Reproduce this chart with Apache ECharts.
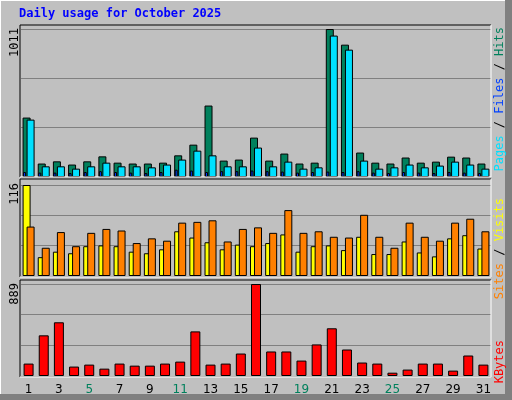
<!DOCTYPE html>
<html>
<head>
<meta charset="utf-8">
<script src="https://cdn.jsdelivr.net/npm/echarts@6/dist/echarts.min.js"></script>
<style>
  html, body { margin: 0; padding: 0; background: #c0c0c0; }
  #chart { width: 512px; height: 400px; }
</style>
</head>
<body>
<div id="chart"></div>
<script>
var days = ['1','2','3','4','5','6','7','8','9','10','11','12','13','14','15','16','17','18','19','20','21','22','23','24','25','26','27','28','29','30','31'];
var weekend = ['4','5','11','12','18','19','25','26'];
var hits   = [406,92,107,85,107,141,98,92,92,98,148,221,488,112,119,269,112,160,92,98,1011,904,167,98,92,133,98,105,139,133,92];
var files  = [392,73,73,57,73,98,73,73,66,85,119,180,148,73,73,201,73,105,57,66,966,870,112,57,66,85,66,78,105,85,57];
var pages  = [34,30,30,27,34,40,34,30,27,34,50,44,34,40,40,44,40,37,30,34,37,34,40,30,27,34,30,27,34,30,27];
var sites  = [116,24,31,29,38,39,38,31,29,34,57,49,43,34,40,38,42,53,31,38,39,33,50,28,28,44,30,25,48,52,35];
var visits = [63,36,56,38,55,60,58,42,48,45,68,69,71,44,60,62,55,84,55,57,50,49,78,50,36,68,50,45,68,73,57];
var kbytes = [120,393,519,91,110,71,120,100,100,120,139,431,110,120,217,889,237,237,149,305,461,256,130,120,32,62,120,120,52,198,110];

var chart = echarts.init(document.getElementById('chart'));

// 面板位置
var panels = [
  {top: 29, height: 148, max: 1011},
  {top: 185, height: 91, max: 116},
  {top: 284, height: 92, max: 889}
];
var frames = [[25,177],[179,277],[280,377]];

function mkGrid(p, shift) {
  return {left: 21 - shift, right: 21 + shift, top: p.top, height: p.height};
}
function mkX(i, show) {
  return {
    type: 'category', gridIndex: i, data: days,
    axisLine: {show: false}, axisTick: {show: false},
    axisLabel: show ? {
      show: true, margin: 8, fontSize: 12, fontFamily: 'DejaVu Sans',
      color: function (v) { return weekend.indexOf(v) != -1 ? '#00805c' : '#000000'; }
    } : {show: false}
  };
}
function mkY(i, p, grid) {
  return {
    type: 'value', gridIndex: i, min: 0, max: p.max, interval: p.max / 3,
    axisLine: {show: false}, axisTick: {show: false}, axisLabel: {show: false},
    splitLine: {show: grid, lineStyle: {color: '#808080', width: 1}}
  };
}
var barBorder = {borderColor: '#000', borderWidth: 1};

var graphics = [];
frames.forEach(function (f) {
  graphics.push({type: 'line', shape: {x1: 20, y1: f[0], x2: 491, y2: f[0]}, style: {stroke: '#000', lineWidth: 1}, z: 100});
  graphics.push({type: 'line', shape: {x1: 20, y1: f[0], x2: 20, y2: f[1]}, style: {stroke: '#000', lineWidth: 1}, z: 100});
  graphics.push({type: 'line', shape: {x1: 20, y1: f[1], x2: 491, y2: f[1]}, style: {stroke: '#fff', lineWidth: 1}, z: 100});
  graphics.push({type: 'line', shape: {x1: 491, y1: f[0], x2: 491, y2: f[1]}, style: {stroke: '#fff', lineWidth: 1}, z: 100});
});
// 外框
graphics.push({type: 'rect', shape: {x: 505, y: 0, width: 7, height: 400}, style: {fill: '#808080'}, z: -1});
graphics.push({type: 'rect', shape: {x: 0, y: 394, width: 512, height: 6}, style: {fill: '#808080'}, z: -1});
graphics.push({type: 'line', shape: {x1: 0, y1: 0.5, x2: 505, y2: 0.5}, style: {stroke: '#fff'}, z: -1});
graphics.push({type: 'line', shape: {x1: 0.5, y1: 0, x2: 0.5, y2: 394}, style: {stroke: '#fff'}, z: -1});
graphics.push({type: 'text', left: 19, top: 8, style: {text: 'Daily usage for October 2025', fill: '#0000ff', font: 'bold 12px "DejaVu Sans Mono"'}});
// 左侧最大值
[['1011', 28], ['116', 183], ['889', 283]].forEach(function (t) {
  graphics.push({type: 'text', x: 9, y: t[1], rotation: Math.PI / 2,
    style: {text: t[0], fill: '#000', font: '12px "DejaVu Sans Mono"', align: 'right', verticalAlign: 'top'}});
});
// 右侧图例
function sideLabel(y, parts) {
  var txt = parts.map(function (p, i) { return '{s' + i + '|' + p[0] + '}'; }).join('');
  var rich = {};
  parts.forEach(function (p, i) { rich['s' + i] = {fill: p[1], font: '12px "DejaVu Sans Mono"'}; });
  graphics.push({type: 'text', x: 494, y: y, rotation: Math.PI / 2,
    style: {text: txt, rich: rich, align: 'right', verticalAlign: 'top'}});
}
sideLabel(27, [['Pages', '#00e0ff'], [' / ', '#000'], ['Files', '#0040ff'], [' / ', '#000'], ['Hits', '#00805c']]);
sideLabel(198, [['Sites', '#ff8000'], [' / ', '#000'], ['Visits', '#ffff00']]);
sideLabel(340, [['KBytes', '#ff0000']]);

var option = {
  backgroundColor: '#c0c0c0',
  animation: false,
  graphic: graphics,
  grid: [mkGrid(panels[0], 0), mkGrid(panels[1], 0), mkGrid(panels[2], 0), mkGrid(panels[0], 4)],
  xAxis: [mkX(0, false), mkX(1, false), mkX(2, true), mkX(3, false)],
  yAxis: [mkY(0, panels[0], true), mkY(1, panels[1], true), mkY(2, panels[2], true), mkY(3, panels[0], false)],
  series: [
    {type: 'bar', name: 'Hits', xAxisIndex: 0, yAxisIndex: 0, data: hits, barWidth: 8, barGap: '-50%', itemStyle: Object.assign({color: '#00805c'}, barBorder)},
    {type: 'bar', name: 'Files', xAxisIndex: 0, yAxisIndex: 0, data: files, barWidth: 8, barGap: '-50%', itemStyle: Object.assign({color: '#00e0ff'}, barBorder)},
    {type: 'bar', name: 'Pages', xAxisIndex: 3, yAxisIndex: 3, data: pages, barWidth: 3, z: 5, itemStyle: Object.assign({color: '#0040ff'}, barBorder)},
    {type: 'bar', name: 'Sites', xAxisIndex: 1, yAxisIndex: 1, data: sites, barWidth: 8, barGap: '-50%', itemStyle: Object.assign({color: '#ffff00'}, barBorder)},
    {type: 'bar', name: 'Visits', xAxisIndex: 1, yAxisIndex: 1, data: visits, barWidth: 8, barGap: '-50%', itemStyle: Object.assign({color: '#ff8000'}, barBorder)},
    {type: 'bar', name: 'KBytes', xAxisIndex: 2, yAxisIndex: 2, data: kbytes, barWidth: 10, itemStyle: Object.assign({color: '#ff0000'}, barBorder)}
  ]
};
chart.setOption(option);
</script>
</body>
</html>
